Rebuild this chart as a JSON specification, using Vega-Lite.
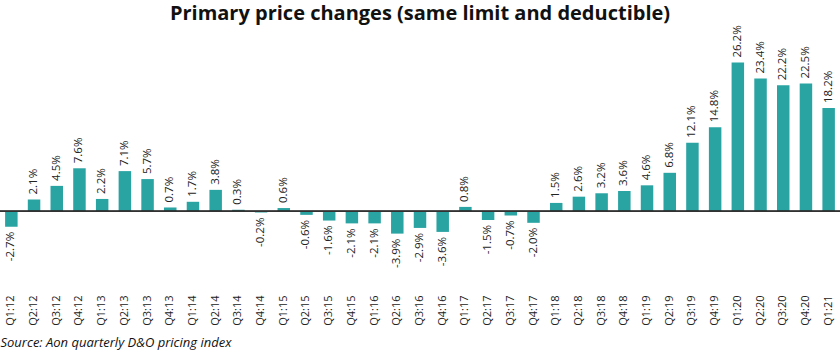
{
  "$schema": "https://vega.github.io/schema/vega-lite/v6.json",
  "width": 840,
  "height": 250,
  "autosize": "none",
  "padding": {"left": 0, "top": 41, "right": 0, "bottom": 61},
  "background": "white",
  "title": {
    "text": "Primary price changes (same limit and deductible)",
    "font": "Open Sans",
    "fontSize": 20,
    "fontWeight": "bold",
    "color": "#111111",
    "anchor": "middle",
    "offset": 1
  },
  "config": {
    "view": {"stroke": null},
    "font": "Open Sans",
    "locale": {"number": {"decimal": ".", "thousands": ",", "grouping": [3], "currency": ["$", ""], "minus": "-"}}
  },
  "data": {
    "values": [
      {"q": "Q1:12", "v": -0.027},
      {"q": "Q2:12", "v": 0.021},
      {"q": "Q3:12", "v": 0.045},
      {"q": "Q4:12", "v": 0.076},
      {"q": "Q1:13", "v": 0.022},
      {"q": "Q2:13", "v": 0.071},
      {"q": "Q3:13", "v": 0.057},
      {"q": "Q4:13", "v": 0.007},
      {"q": "Q1:14", "v": 0.017},
      {"q": "Q2:14", "v": 0.038},
      {"q": "Q3:14", "v": 0.003},
      {"q": "Q4:14", "v": -0.002},
      {"q": "Q1:15", "v": 0.006},
      {"q": "Q2:15", "v": -0.006},
      {"q": "Q3:15", "v": -0.016},
      {"q": "Q4:15", "v": -0.021},
      {"q": "Q1:16", "v": -0.021},
      {"q": "Q2:16", "v": -0.039},
      {"q": "Q3:16", "v": -0.029},
      {"q": "Q4:16", "v": -0.036},
      {"q": "Q1:17", "v": 0.008},
      {"q": "Q2:17", "v": -0.015},
      {"q": "Q3:17", "v": -0.007},
      {"q": "Q4:17", "v": -0.020},
      {"q": "Q1:18", "v": 0.015},
      {"q": "Q2:18", "v": 0.026},
      {"q": "Q3:18", "v": 0.032},
      {"q": "Q4:18", "v": 0.036},
      {"q": "Q1:19", "v": 0.046},
      {"q": "Q2:19", "v": 0.068},
      {"q": "Q3:19", "v": 0.121},
      {"q": "Q4:19", "v": 0.148},
      {"q": "Q1:20", "v": 0.262},
      {"q": "Q2:20", "v": 0.234},
      {"q": "Q3:20", "v": 0.222},
      {"q": "Q4:20", "v": 0.225},
      {"q": "Q1:21", "v": 0.182}
    ]
  },
  "encoding": {
    "x": {
      "field": "q",
      "type": "nominal",
      "sort": null,
      "scale": {"paddingInner": 0.45, "paddingOuter": 0.225},
      "axis": {
        "title": "Source: Aon quarterly D&O pricing index",
        "titleFont": "Open Sans",
        "titleFontSize": 13,
        "titleFontStyle": "italic",
        "titleFontWeight": "normal",
        "titleColor": "#111111",
        "titleAnchor": "start",
        "titleAlign": "left",
        "titlePadding": 11,
        "labelAngle": 270,
        "labelFont": "Open Sans",
        "labelFontSize": 11,
        "labelColor": "#222222",
        "labelPadding": 4,
        "domain": false,
        "ticks": false,
        "grid": false
      }
    },
    "y": {
      "field": "v",
      "type": "quantitative",
      "scale": {"domain": [-0.14, 0.30], "nice": false, "zero": false},
      "axis": null
    }
  },
  "layer": [
    {"mark": {"type": "bar", "color": "#2aa3a3"}},
    {
      "mark": {"type": "rule", "color": "#333333", "strokeWidth": 1},
      "encoding": {"y": {"datum": 0}, "x": null}
    },
    {
      "transform": [{"filter": "datum.v >= 0"}],
      "mark": {"type": "text", "angle": 270, "align": "left", "baseline": "middle", "dx": 5, "font": "Open Sans", "fontSize": 11.5, "color": "#222222"},
      "encoding": {"text": {"field": "v", "type": "quantitative", "format": ".1%"}}
    },
    {
      "transform": [{"filter": "datum.v < 0"}],
      "mark": {"type": "text", "angle": 270, "align": "right", "baseline": "middle", "dx": -5, "font": "Open Sans", "fontSize": 11.5, "color": "#222222"},
      "encoding": {"text": {"field": "v", "type": "quantitative", "format": ".1%"}}
    }
  ]
}
